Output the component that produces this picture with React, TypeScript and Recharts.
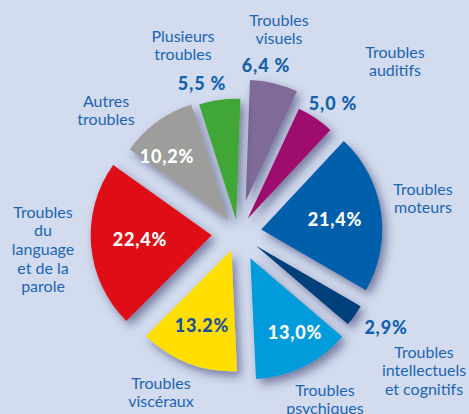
import React from "react";
import { PieChart, Pie, Cell, Sector } from "recharts";

// ---- data ----
const categories = [
  "Troubles visuels",
  "Troubles auditifs",
  "Troubles moteurs",
  "Troubles intellectuels et cognitifs",
  "Troubles psychiques",
  "Troubles viscéraux",
  "Troubles du language et de la parole",
  "Autres troubles",
  "Plusieurs troubles",
];
const values = [6.4, 5.0, 21.4, 2.9, 13.0, 13.2, 22.4, 10.2, 5.5];
const valueLabels = ["6,4 %", "5,0 %", "21,4%", "2,9%", "13,0%", "13.2%", "22,4%", "10,2%", "5,5 %"];
const nameLines = [
  ["Troubles", "visuels"],
  ["Troubles", "auditifs"],
  ["Troubles", "moteurs"],
  ["Troubles", "intellectuels", "et cognitifs"],
  ["Troubles", "psychiques"],
  ["Troubles", "viscéraux"],
  ["Troubles", "du", "language", "et de la", "parole"],
  ["Autres", "troubles"],
  ["Plusieurs", "troubles"],
];

// ---- styles ----
const COLORS = ["#7F6A98", "#9E0A6E", "#005EAB", "#003F7A", "#009BDB", "#FFDE00", "#DE0A16", "#9D9D9B", "#40A636"];
const EXPLODE = [33, 17.5, 23.5, 22, 28, 18.5, 26.4, 16.5, 13.4];
const VALUE_COLORS = ["#1461AC", "#1461AC", "#FFFFFF", "#1461AC", "#FFFFFF", "#1F4F9C", "#FFFFFF", "#FFFFFF", "#1461AC"];
// label anchors relative to pie centre
const NAME_POS = [[41, -213], [157, -181], [185, -44], [186, 119], [87, 157], [-77, 150], [-195, -21], [-132, -132], [-55, -197]];
const VALUE_POS = [[28, -168], [95, -130], [97, -14], [148, 94], [57, 99], [-36, 92], [-98, 6], [-71, -77], [-36, -150]];

const data = categories.map((c, i) => ({ name: c, value: values[i] }));
const FONT = "Lato, 'Open Sans', sans-serif";
const idxOf = (p: any) => {
  const n = p?.payload?.name ?? p?.name;
  const i = categories.indexOf(n);
  return i >= 0 ? i : p?.index ?? 0;
};

const ExplodedSector = (props: any) => {
  const i = idxOf(props);
  const mid = ((props.startAngle + props.endAngle) / 2) * (Math.PI / 180);
  const d = EXPLODE[i];
  return (
    <Sector
      {...props}
      cx={props.cx + d * Math.cos(mid)}
      cy={props.cy - d * Math.sin(mid)}
      stroke="none"
      filter="url(#sliceShadow)"
    />
  );
};

const renderLabel = (props: any) => {
  const i = idxOf(props);
  const cx = props.cx;
  const cy = props.cy;
  const [nx, ny] = NAME_POS[i];
  const [vx, vy] = VALUE_POS[i];
  return (
    <g key={"lbl" + i}>
      <text
        x={cx + vx}
        y={cy + vy + 6.5}
        textAnchor="middle"
        fill={VALUE_COLORS[i]}
        fontFamily={FONT}
        fontWeight={900}
        fontSize={18}
        letterSpacing={0.8}
      >
        {valueLabels[i]}
      </text>
      <text textAnchor="middle" fill="#1B66B1" fontFamily={FONT} fontSize={16}>
        {nameLines[i].map((ln, k) => (
          <tspan key={k} x={cx + nx} y={cy + ny + 5.5 + k * 18.7}>
            {ln}
          </tspan>
        ))}
      </text>
    </g>
  );
};

export default function App() {
  return (
    <div style={{ position: "absolute", left: 0, top: 0, width: 469, height: 414, background: "#D3DBEE" }}>
      <svg width={0} height={0} style={{ position: "absolute" }}>
        <defs>
          <filter id="sliceShadow" x="-30%" y="-30%" width="160%" height="160%">
            <feDropShadow dx={4} dy={5} stdDeviation={5} floodColor="#26335F" floodOpacity={0.55} />
          </filter>
        </defs>
      </svg>
      <PieChart width={469} height={414} margin={{ top: 0, right: 0, bottom: 0, left: 0 }}>
        <Pie
          data={data}
          dataKey="value"
          nameKey="name"
          cx={238}
          cy={233}
          innerRadius={0}
          outerRadius={121}
          startAngle={88}
          endAngle={-272}
          stroke="none"
          isAnimationActive={false}
          shape={ExplodedSector}
          label={renderLabel}
          labelLine={false}
        >
          {data.map((_, i) => (
            <Cell key={i} fill={COLORS[i]} />
          ))}
        </Pie>
      </PieChart>
    </div>
  );
}
